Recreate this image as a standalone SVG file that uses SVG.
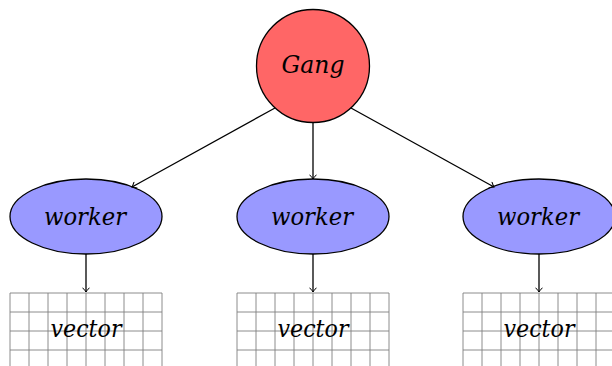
<svg xmlns="http://www.w3.org/2000/svg" width="612" height="366" viewBox="0 0 612 366">
<style>
text{font-family:'DejaVu Serif',serif;font-style:italic;font-size:25px;fill:#000;text-anchor:middle}
.grid{stroke:#7f7f7f;stroke-width:0.9;fill:none}
.edge{stroke:#000;stroke-width:1.3;fill:none;marker-end:url(#to)}
.worker{fill:#9999ff;stroke:#000;stroke-width:1.3}
</style>
<defs>
<marker id="to" viewBox="-5 -4 6 8" refX="0" refY="0" markerWidth="6" markerHeight="8" markerUnits="userSpaceOnUse" orient="auto">
<path d="M-4,-3.2 Q-1.2,-0.6 0,0 Q-1.2,0.6 -4,3.2" stroke="#000" stroke-width="1" fill="none" stroke-linecap="round"/>
</marker>
</defs>
<g id="vector1">
<path class="grid" d="M10,293 H162 M10,312 H162 M10,331 H162 M10,350 H162 M10,293 V366 M29,293 V366 M48,293 V366 M67,293 V366 M86,293 V366 M105,293 V366 M124,293 V366 M143,293 V366 M162,293 V366"/>
<text x="86" y="337" textLength="71" lengthAdjust="spacingAndGlyphs">vector</text>
</g>
<g id="vector2">
<path class="grid" d="M237,293 H389 M237,312 H389 M237,331 H389 M237,350 H389 M237,293 V366 M256,293 V366 M275,293 V366 M294,293 V366 M313,293 V366 M332,293 V366 M351,293 V366 M370,293 V366 M389,293 V366"/>
<text x="313" y="337" textLength="71" lengthAdjust="spacingAndGlyphs">vector</text>
</g>
<g id="vector3">
<path class="grid" d="M463,293 H615 M463,312 H615 M463,331 H615 M463,350 H615 M463,293 V366 M482,293 V366 M501,293 V366 M520,293 V366 M539,293 V366 M558,293 V366 M577,293 V366 M596,293 V366"/>
<text x="539" y="337" textLength="71" lengthAdjust="spacingAndGlyphs">vector</text>
</g>
<g id="gang">
<circle cx="313" cy="66" r="56.5" fill="#ff6666" stroke="#000" stroke-width="1.3"/>
<text x="313" y="73" textLength="63" lengthAdjust="spacingAndGlyphs">Gang</text>
</g>
<g id="worker1">
<ellipse class="worker" cx="86" cy="216.5" rx="76" ry="37.5"/>
<text x="85" y="225" textLength="82" lengthAdjust="spacingAndGlyphs">worker</text>
</g>
<g id="worker2">
<ellipse class="worker" cx="313" cy="216.5" rx="76" ry="37.5"/>
<text x="312" y="225" textLength="82" lengthAdjust="spacingAndGlyphs">worker</text>
</g>
<g id="worker3">
<ellipse class="worker" cx="539" cy="216.5" rx="76" ry="37.5"/>
<text x="538" y="225" textLength="82" lengthAdjust="spacingAndGlyphs">worker</text>
</g>
<g id="connectors">
<path class="edge" d="M275,108 L132,187"/>
<path class="edge" d="M313,122.5 L313,179"/>
<path class="edge" d="M351,108 L494,187"/>
<path class="edge" d="M86,254 L86,292"/>
<path class="edge" d="M313,254 L313,292"/>
<path class="edge" d="M539,254 L539,292"/>
</g>
</svg>
